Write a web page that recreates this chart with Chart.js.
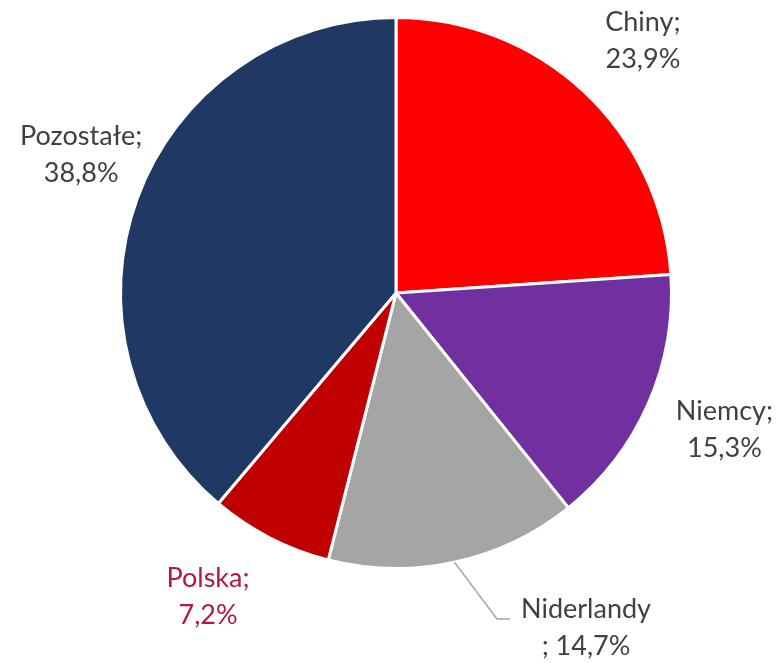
<!DOCTYPE html>
<html>
<head>
<meta charset="utf-8">
<script src="https://cdn.jsdelivr.net/npm/chart.js@4"></script>
<style>
  html, body { margin: 0; padding: 0; background: #fff; }
  #wrap { width: 782px; height: 663px; }
</style>
</head>
<body>
<div id="wrap"><canvas id="myChart" width="782" height="663"></canvas></div>
<script>
const countries = ["Chiny", "Niemcy", "Niderlandy", "Polska", "Pozostałe"];
const shares = [23.9, 15.3, 14.7, 7.2, 38.8];
const sliceColors = ["#FF0000", "#7030A0", "#A5A5A5", "#C00000", "#203864"];
const labelColors = ["#404040", "#404040", "#404040", "#B4183A", "#404040"];

// label distance from centre (as multiple of radius) and manual nudges
const labelDist = [1.27, 1.27, 1.27, 1.27, 1.24];
const labelNudge = [[8, 3], [8, -4], [0, 0], [-28, -8], [6, -21]];
// Niderlandy label was dragged away in the original, with a leader line
const leader = { index: 2, pos: [586, 627] };

const fmt = (v) => v.toFixed(1).replace(".", ",") + "%";

const pieLabels = {
  id: "pieLabels",
  afterDatasetsDraw(chart) {
    const ctx = chart.ctx;
    const meta = chart.getDatasetMeta(0);
    ctx.save();
    ctx.font = "27px Lato";
    ctx.textAlign = "center";
    ctx.textBaseline = "middle";
    meta.data.forEach((arc, i) => {
      const mid = (arc.startAngle + arc.endAngle) / 2;
      const r = arc.outerRadius;
      let x, y;
      let lines = [countries[i] + ";", fmt(shares[i])];
      if (i === leader.index) {
        x = leader.pos[0];
        y = leader.pos[1];
        lines = [countries[i], "; " + fmt(shares[i])];
        const sx = arc.x + Math.cos(mid) * r;
        const sy = arc.y + Math.sin(mid) * r;
        ctx.strokeStyle = "#A5A5A5";
        ctx.lineWidth = 1.5;
        ctx.beginPath();
        ctx.moveTo(sx, sy);
        ctx.lineTo(x - 89, y - 8);
        ctx.lineTo(x - 76, y - 8);
        ctx.stroke();
      } else {
        x = arc.x + Math.cos(mid) * r * labelDist[i] + labelNudge[i][0];
        y = arc.y + Math.sin(mid) * r * labelDist[i] + labelNudge[i][1];
      }
      ctx.fillStyle = labelColors[i];
      ctx.fillText(lines[0], x, y - 18);
      ctx.fillText(lines[1], x, y + 19);
    });
    ctx.restore();
  }
};

new Chart(document.getElementById("myChart"), {
  type: "pie",
  data: {
    labels: countries,
    datasets: [
      {
        data: shares,
        backgroundColor: sliceColors,
        borderColor: "#FFFFFF",
        borderWidth: 3,
      },
    ],
  },
  options: {
    responsive: false,
    animation: false,
    layout: { padding: { top: 16, bottom: 93, left: 119, right: 109 } },
    plugins: {
      legend: { display: false },
      tooltip: { enabled: false },
    },
  },
  plugins: [pieLabels],
});
</script>
</body>
</html>
